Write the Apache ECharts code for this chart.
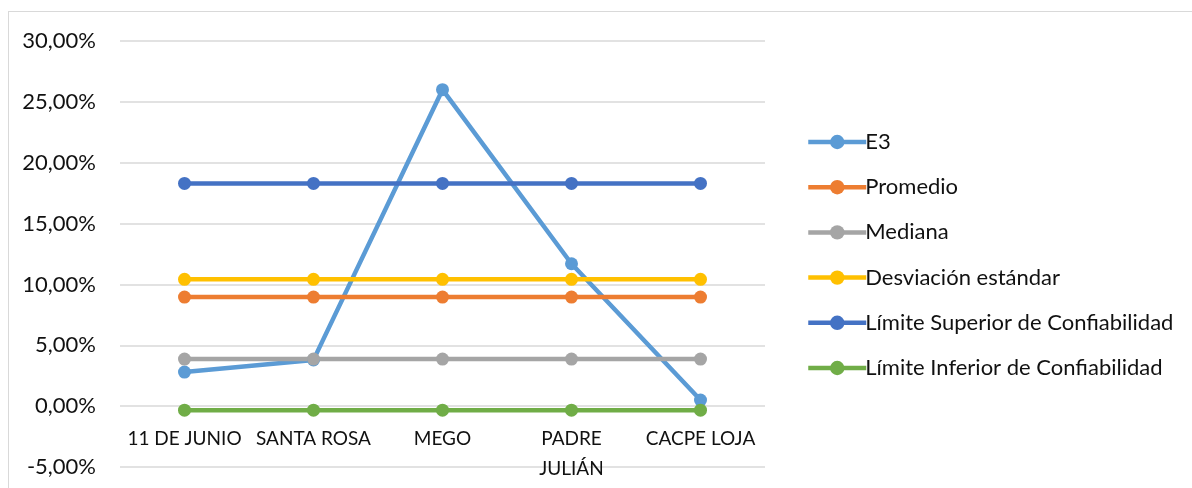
<!DOCTYPE html>
<html>
<head>
<meta charset="utf-8">
<script src="https://cdn.jsdelivr.net/npm/echarts@6/dist/echarts.min.js"></script>
<style>
  html, body { margin: 0; padding: 0; background: #fff; }
  #chart { position: absolute; left: 0; top: 0; width: 1192px; height: 488px; }
  #frame { position: absolute; left: 8px; top: 11px; width: 1200px; height: 500px;
           border: 1px solid #d9d9d9; pointer-events: none; }
</style>
</head>
<body>
<div id="chart"></div>
<div id="frame"></div>
<script>
// categorias (entidades)
var categorias = ['11 DE JUNIO', 'SANTA ROSA', 'MEGO', 'PADRE JULIÁN', 'CACPE LOJA'];

// valores en %
var e3 = [2.8, 3.8, 26.0, 11.7, 0.5];
var promedio = [8.96, 8.96, 8.96, 8.96, 8.96];
var mediana = [3.87, 3.87, 3.87, 3.87, 3.87];
var desviacion = [10.42, 10.42, 10.42, 10.42, 10.42];
var limSuperior = [18.3, 18.3, 18.3, 18.3, 18.3];
var limInferior = [-0.33, -0.33, -0.33, -0.33, -0.33];

var nombres = ['E3', 'Promedio', 'Mediana', 'Desviación estándar',
  'Límite Superior de Confiabilidad', 'Límite Inferior de Confiabilidad'];
var colores = ['#5B9BD5', '#ED7D31', '#A5A5A5', '#FFC000', '#4472C4', '#70AD47'];
var datos = [e3, promedio, mediana, desviacion, limSuperior, limInferior];

var fuente = 'Lato, "Liberation Sans", sans-serif';

var chart = echarts.init(document.getElementById('chart'));
var option = {
  animation: false,
  textStyle: { fontFamily: fuente },
  grid: { left: 120, right: 427, top: 41, bottom: 21, outerBoundsMode: 'none', containLabel: false },
  legend: {
    orient: 'vertical',
    left: 801,
    top: 126,
    itemWidth: 58,
    itemHeight: 18,
    itemGap: 23.2,
    lineStyle: { width: 4.5 },
    textStyle: { fontSize: 22, color: '#111', fontFamily: fuente, lineHeight: 18, padding: [0, 0, 0, -6] },
    data: nombres
  },
  xAxis: {
    type: 'category',
    data: categorias,
    boundaryGap: true,
    offset: -61,  // etiquetas junto a la linea del 0 %
    axisLine: { show: false, onZero: false },
    axisTick: { show: false },
    axisLabel: {
      fontSize: 19, color: '#111', margin: 18, lineHeight: 30, interval: 0,
      formatter: function (v) { return v === 'PADRE JULIÁN' ? 'PADRE\nJULIÁN' : v; }
    }
  },
  yAxis: {
    type: 'value',
    min: -5,
    max: 30,
    interval: 5,
    axisLine: { show: false },
    axisTick: { show: false },
    splitLine: { lineStyle: { color: '#d9d9d9', width: 1.5 } },
    axisLabel: {
      fontSize: 22, color: '#111', margin: 24,
      formatter: function (v) { return v.toFixed(2).replace('.', ',') + '%'; }
    }
  },
  series: nombres.map(function (n, i) {
    return {
      name: n,
      type: 'line',
      data: datos[i],
      symbol: 'circle',
      symbolSize: 13,
      color: colores[i],
      lineStyle: { width: 4.5, color: colores[i] },
      itemStyle: { color: colores[i] }
    };
  })
};
chart.setOption(option);
</script>
</body>
</html>
